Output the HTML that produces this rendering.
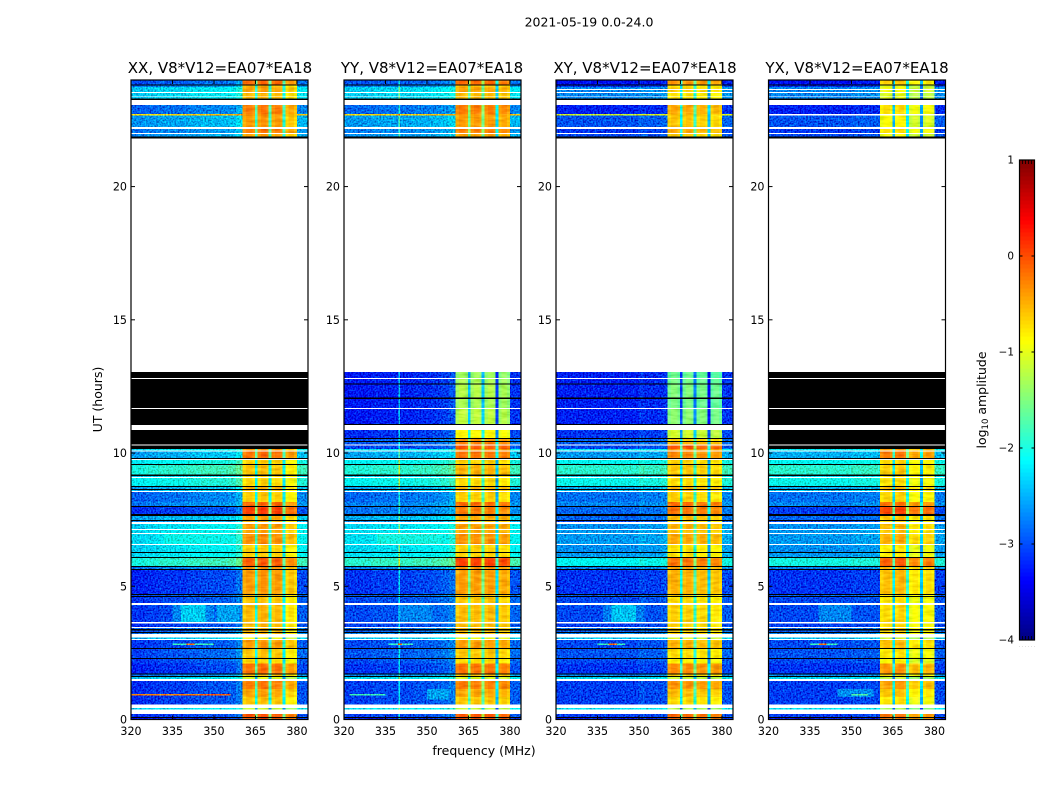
<!DOCTYPE html>
<html lang="en">
<head>
<meta charset="utf-8">
<title>2021-05-19 0.0-24.0</title>
<style>
html,body{margin:0;padding:0;background:#fff;}
svg{display:block;}
text{font-family:"DejaVu Sans","Liberation Sans",sans-serif;fill:#000;}
</style>
</head>
<body>
<svg id="chart" xmlns="http://www.w3.org/2000/svg" width="1050" height="800" viewBox="0 0 1050 800">
  <defs>
    <filter id="speckle" x="0" y="0" width="100%" height="100%" color-interpolation-filters="sRGB">
      <feTurbulence type="fractalNoise" baseFrequency="0.6" numOctaves="1" seed="4" result="n"/>
      <feColorMatrix in="n" type="matrix" values="0 0 0 0 .5 1 0 0 0 0 1 0 0 0 0 0 0 0 0 1" result="g"/>
      <feComposite in="SourceGraphic" in2="g" operator="arithmetic" k1="0" k2="1" k3="1.1" k4="-0.58" result="c"/>
      <feComposite in="c" in2="SourceAlpha" operator="in"/>
    </filter>
    <filter id="speckle-soft" x="0" y="0" width="100%" height="100%" color-interpolation-filters="sRGB">
      <feTurbulence type="fractalNoise" baseFrequency="0.08 0.35" numOctaves="2" seed="9" result="n"/>
      <feColorMatrix in="n" type="matrix" values="1 0 0 0 0 1 0 0 0 0 1 0 0 0 0 0 0 0 0 1" result="g"/>
      <feComposite in="SourceGraphic" in2="g" operator="arithmetic" k1="0" k2="1" k3="0.3" k4="-0.15" result="c"/>
      <feComposite in="c" in2="SourceAlpha" operator="in"/>
    </filter>
  </defs>
  <text x="589" y="26.5" font-size="12.5" text-anchor="middle">2021-05-19 0.0-24.0</text>
  <text x="220" y="73" font-size="15" text-anchor="middle">XX, V8*V12=EA07*EA18</text>
  <text x="432" y="73" font-size="15" text-anchor="middle">YY, V8*V12=EA07*EA18</text>
  <text x="645" y="73" font-size="15" text-anchor="middle">XY, V8*V12=EA07*EA18</text>
  <text x="857" y="73" font-size="15" text-anchor="middle">YX, V8*V12=EA07*EA18</text>
  <text font-size="12.5" text-anchor="middle" transform="translate(102 399.5) rotate(-90)">UT (hours)</text>
  <text x="484" y="755" font-size="12.5" text-anchor="middle">frequency (MHz)</text>
  <text font-size="12.5" text-anchor="middle" transform="translate(986 400) rotate(-90)">log<tspan font-size="8.5" dy="2">10</tspan><tspan dy="-2"> amplitude</tspan></text>
  <g id="panels"></g>
  <g id="colorbar"></g>
</svg>
<script>
// Band values: null = no data (white), K = zero amplitude (black)
const N = null;
const K = -9;

// UT hour at which each band starts (the last band ends at 24)
const bandStart = [
  0,.06,.09,.21,.38,.43,.56,.85,1.15,1.44,
  1.52,1.59,1.63,1.69,1.73,2.1,2.27,2.31,2.65,2.68,
  2.98,3.02,3.08,3.21,3.25,3.28,3.34,3.40,3.43,3.47,
  3.60,3.66,4.30,4.37,4.60,4.63,4.67,4.71,5.61,5.65,
  5.72,5.76,6.06,6.10,6.25,6.29,6.55,6.59,6.96,7.00,
  7.11,7.15,7.34,7.41,7.45,7.49,7.64,7.71,7.97,8.01,
  8.16,8.54,8.57,8.61,8.65,8.72,8.76,9.06,9.10,9.14,
  9.19,9.55,9.59,9.74,9.77,9.81,10.06,10.09,10.15,10.28,
  10.32,10.41,10.45,10.53,10.56,10.86,11.05,11.09,11.65,11.69,12.03,12.08,
  12.57,12.61,12.78,12.81,13.04,21.80,21.88,21.97,22.01,22.16,
  22.23,22.66,22.72,23.06,23.25,23.31,23.36,23.39,23.51,23.55,
  23.62,23.66,23.74,23.79,23.84
];
// log10 amplitude below 360 MHz for each band
const lowLevel = [
  -3.2,K,-3.05,N,-2.25,N,-3.05,-3.05,-3.05,N,
  -2.3,K,-2.7,K,-3.1,-3,K,-2.95,K,-3,
  N,-2.4,N,-2.7,K,-2.9,K,-2.8,N,-3.05,
  N,-3,N,-3,K,-2.9,K,-3.1,K,-2.7,
  K,-1.9,K,-2.2,K,-2.25,N,-2.2,N,-2.2,
  N,-2.25,N,-2.6,K,-2.45,K,-3.05,K,-2.7,
  -2.8,N,-2.4,K,-2.5,K,-2.05,N,-2.3,K,
  -1.9,K,-2.1,N,K,-2.5,N,-2.2,-3,N,
  -2.9,K,-2.9,K,-3.1,N,K,-3.2,N,-3.2,K,-3.2,
  K,-3.2,N,-3.2,N,K,-2.6,N,-2.7,N,
  -2.55,-.7,-2.8,N,K,-2.3,N,-2.3,N,-2.3,
  -2.3,-2.3,-2.7,K,-2.9
];
// log10 amplitude in the 360-380 MHz block for each band
const highLevel = [
  0,K,0,N,-1.1,N,-.55,-.4,-.2,N,
  -1,K,-.5,K,-.15,-.65,K,-.55,K,-.35,
  N,-.9,N,-.5,K,-.5,K,-.5,N,-.5,
  N,-.5,N,-.55,K,-.5,K,-.35,K,-.3,
  K,-.05,K,-.6,K,-.6,N,-.3,N,-.4,
  N,-.35,N,-.5,K,-.4,K,.1,K,-.1,
  -.6,N,-.5,K,-.45,K,-.65,N,-.6,K,
  -.55,K,-.6,N,K,-.15,N,-.3,0,N,
  -.2,K,-.3,K,-.8,N,K,-1.15,N,-1.25,K,-1.2,
  K,-1.25,N,-1.3,N,K,-.4,N,-.2,N,
  -.35,-.3,-.2,N,K,-.5,N,-.5,N,-.4,
  -.4,-.4,-.5,K,-.1
];

// Frequency channel edges (MHz) and each channel's zone
const freqEdges = [320,325,330,335,339.7,340.3,345,350,352,355,358,360.4,361.5,364,364.8,365.8,367,369,369.8,370.8,372,374,374.8,375.8,377,379,380,384];
const channelZone = ['L','L','L','L','L','L','L','L','L','L','L','H','H','H','H','H','H','H','H','H','H','H','H','H','H','H','L'];

// Per-polarisation channel offsets (log10 amplitude)
const xxChannel = [-.1,-.05,0,0,0,.05,.1,.1,.1,.15,.3,-.12,-.02,-.12,-1.5,-.08,.03,-.08,-1.5,-.12,-.02,-.12,-1.6,-.35,-.22,-.35,.1];
const yyChannel = [-.05,-.05,0,0,.8,0,.05,.05,.1,.15,.25,-.12,-.02,-.12,-1.2,-.12,-.02,-.12,-1.2,-.12,-.02,-.12,-1.9,-.2,-.08,-.2,.1];
const xyChannel = [0,0,0,0,0,0,0,.1,.05,.05,.1,-.12,-.02,-.12,-1.6,-.12,-.02,-.12,-1.3,-.17,-.07,-.17,-1.9,-.22,-.12,-.22,.1];
const yxChannel = [0,0,0,0,0,0,0,.05,.05,.05,.05,-.17,-.07,-.17,-1.7,-.12,-.02,-.12,-1.4,-.37,-.27,-.37,-1.9,-.32,-.22,-.32,.05];

// Per-polarisation level shifts: [fromHour, toHour, lowShift, highShift]
const xxShift = [];
const yyShift = [[0,5.7,.05,0],[5.76,6.06,.05,.15],[7.71,7.97,.3,-.3],[9.19,9.55,0,.1]];
const xyShift = [[0,5.7,0,-.1],[5.76,6.06,-.2,-.1],[6.1,7.7,-.4,-.1],[7.71,7.97,.2,-.25],[9.8,10.1,-.1,-.1],[10.3,13.04,0,-.25],[21,24,-.4,-.2]];
const yxShift = [[0,5.7,0,-.12],[5.76,6.06,-.1,.05],[6.1,7.7,-.4,-.1],[21,24,-.4,-.45]];

// UT ranges flagged per polarisation
const xxBlack = [[10.15,13.04]];
const yyBlack = [];
const xyBlack = [];
const yxBlack = [[10.15,13.04]];
const xxWhite = [];
const yyWhite = [];
const xyWhite = [[23.62,23.66]];
const yxWhite = [[23.62,23.66],[22.66,22.72]];

// Localised features: [fromHour, toHour, fromMHz, toMHz, log10 amplitude]
const xxFeatures = [[.90,.96,320,345,-.3],[.90,.96,345,356,-.1],[2.80,2.86,335,350,-1.8],[2.80,2.86,340,343,-.2],[3.66,4.30,335,350,-2.7],[3.66,4.30,338,347,-2.35],[3.66,4.30,351,359,-2.55],[6.59,6.96,332,355,-2.05]];
const yyFeatures = [[.75,1.15,350,358,-2.55],[.90,.96,322,335,-1.8],[2.80,2.86,336,345,-1.8],[2.80,2.86,339.5,341,-.2],[3.66,4.30,340,352,-2.7],[6.59,6.96,332,355,-2]];
const xyFeatures = [[2.80,2.86,335,345,-1.8],[2.80,2.86,339,342,-.2],[3.66,4.30,337,352,-2.75],[3.66,4.30,340,349,-2.4]];
const yxFeatures = [[.85,1.15,345,358,-2.65],[.90,.96,350,356,-1.7],[2.80,2.86,335,345,-1.8],[2.80,2.86,338,341,-.2],[3.66,4.30,338,350,-2.7]];

// Axis ticks
const xTickValues = [320,335,350,365,380];
const xTickLabels = ['320','335','350','365','380'];
const yTickValues = [0,5,10,15,20];
const yTickLabels = ['0','5','10','15','20'];
const cbTickValues = [1,0,-1,-2,-3,-4];
const cbTickLabels = ['1','0','\u22121','\u22122','\u22123','\u22124'];

const panelKeys = ['xx','yy','xy','yx'];
const panelChannels = [xxChannel,yyChannel,xyChannel,yxChannel];
const panelShifts = [xxShift,yyShift,xyShift,yxShift];
const panelBlack = [xxBlack,yyBlack,xyBlack,yxBlack];
const panelWhite = [xxWhite,yyWhite,xyWhite,yxWhite];
const panelFeatures = [xxFeatures,yyFeatures,xyFeatures,yxFeatures];

const SVGNS = 'http://www.w3.org/2000/svg';
const PLOT_TOP = 80, PLOT_BOTTOM = 719.5, PANEL_W = 177;
const panelLeft = [131,344,556,768.5];
function yOf(h){ return PLOT_BOTTOM - (h/24)*(PLOT_BOTTOM-PLOT_TOP); }
function xOf(f,left){ return left + ((f-320)/64)*PANEL_W; }

function jet(v){
  const t = Math.max(0,Math.min(1,(v+4)/5));
  const ch = function(c){ return Math.round(255*Math.max(0,Math.min(1,1.5-Math.abs(4*t-c)))); };
  return 'rgb('+ch(3)+','+ch(2)+','+ch(1)+')';
}
function make(tag,attrs,parent){
  const el = document.createElementNS(SVGNS,tag);
  for(const k in attrs){ el.setAttribute(k,attrs[k]); }
  parent.appendChild(el);
  return el;
}
function inRanges(h,ranges){
  return ranges.some(function(r){ return h>r[0] && h<r[1]; });
}
function shiftAt(h,shifts){
  for(const s of shifts){ if(h>s[0] && h<s[1]) return s; }
  return [0,0,0,0];
}
function bandEnd(i){ return i+1<bandStart.length ? bandStart[i+1] : 24; }

const panelsRoot = document.getElementById('panels');
panelKeys.forEach(function(key,p){
  const left = panelLeft[p];
  const panel = make('g',{},panelsRoot);
  
  
  const lowGroup = make('g',{filter:'url(#speckle)','shape-rendering':'crispEdges'},panel);
  
  
  const highGroup = make('g',{filter:'url(#speckle-soft)','shape-rendering':'crispEdges'},panel);
  
  
  const flagGroup = make('g',{'shape-rendering':'crispEdges'},panel);
  
  

  lowLevel.forEach(function(low,i){
    const from = bandStart[i], to = bandEnd(i), mid = (from+to)/2;
    if(low===N || inRanges(mid,panelWhite[p])) return;
    const y1 = yOf(to), y2 = yOf(from);
    if(low===K || inRanges(mid,panelBlack[p])){
      const blackCell = make('rect',{x:left,y:y1,width:PANEL_W,height:y2-y1,fill:'#000'},flagGroup);
      
      
      return;
    }
    const shift = shiftAt(mid,panelShifts[p]);
    channelZone.forEach(function(zone,j){
      const base = zone==='L' ? low+shift[2] : highLevel[i]+shift[3];
      const value = base + panelChannels[p][j];
      const x1 = xOf(freqEdges[j],left), x2 = xOf(freqEdges[j+1],left);
      const cell = make('rect',{x:x1,y:y1,width:x2-x1,height:y2-y1,fill:jet(value)},zone==='L'?lowGroup:highGroup);
      
      
    });
  });

  panelFeatures[p].forEach(function(f){
    const x1 = xOf(f[2],left), x2 = xOf(f[3],left), y1 = yOf(f[1]), y2 = yOf(f[0]);
    const feature = make('rect',{x:x1,y:y1,width:x2-x1,height:y2-y1,fill:jet(f[4])},lowGroup);
    
    
  });

  const frame = make('rect',{x:left,y:PLOT_TOP,width:PANEL_W,height:PLOT_BOTTOM-PLOT_TOP,fill:'none',stroke:'#000','stroke-width':1.2},panel);
  
  

  xTickValues.forEach(function(v,i){
    const x = xOf(v,left);
    const bottomTick = make('line',{x1:x,x2:x,y1:PLOT_BOTTOM,y2:PLOT_BOTTOM-4,stroke:'#000','stroke-width':1},panel);
    
    
    const topTick = make('line',{x1:x,x2:x,y1:PLOT_TOP,y2:PLOT_TOP+4,stroke:'#000','stroke-width':1},panel);
    
    
    const label = make('text',{x:x,y:735,'font-size':11.1,'text-anchor':'middle'},panel);
    
    
    label.textContent = xTickLabels[i];
  });
  yTickValues.forEach(function(v,i){
    const y = yOf(v);
    const leftTick = make('line',{x1:left,x2:left+4,y1:y,y2:y,stroke:'#000','stroke-width':1},panel);
    
    
    const rightTick = make('line',{x1:left+PANEL_W,x2:left+PANEL_W-4,y1:y,y2:y,stroke:'#000','stroke-width':1},panel);
    
    
    const label = make('text',{x:left-4,y:y+4,'font-size':11.1,'text-anchor':'end'},panel);
    
    
    label.textContent = yTickLabels[i];
  });
});

// Colorbar
const cbRoot = document.getElementById('colorbar');
const CB_L = 1019.5, CB_W = 15, CB_T = 160, CB_B = 640;
function cbY(v){ return CB_B - ((v+4)/5)*(CB_B-CB_T); }
const cbSteps = 120;
for(let s=0;s<cbSteps;s++){
  const v0 = -4 + 5*s/cbSteps, v1 = -4 + 5*(s+1)/cbSteps;
  const step = make('rect',{x:CB_L,y:cbY(v1),width:CB_W,height:cbY(v0)-cbY(v1)+.5,fill:jet((v0+v1)/2),'shape-rendering':'crispEdges'},cbRoot);
  
  
}
const cbFrame = make('rect',{x:CB_L,y:CB_T,width:CB_W,height:CB_B-CB_T,fill:'none',stroke:'#000','stroke-width':1.2},cbRoot);


cbTickValues.forEach(function(v,i){
  const y = cbY(v);
  const tickL = make('line',{x1:CB_L,x2:CB_L+3,y1:y,y2:y,stroke:'#000','stroke-width':1},cbRoot);
  
  
  const tickR = make('line',{x1:CB_L+CB_W,x2:CB_L+CB_W-3,y1:y,y2:y,stroke:'#000','stroke-width':1},cbRoot);
  
  
  const label = make('text',{x:1014,y:y+3.5,'font-size':10.4,'text-anchor':'end'},cbRoot);
  
  
  label.textContent = cbTickLabels[i];
});
[0,.2,.4,.6,.8,1].forEach(function(frac){
  const x = CB_L + frac*CB_W;
  const minorTop = make('line',{x1:x,x2:x,y1:CB_T,y2:CB_T+4,stroke:'#000','stroke-width':.8},cbRoot);
  
  
  const minorBottom = make('line',{x1:x,x2:x,y1:CB_B,y2:CB_B-4,stroke:'#000','stroke-width':.8},cbRoot);
  
  
  const dot = make('text',{x:x,y:647,'font-size':3,'text-anchor':'middle'},cbRoot);
  
  
  dot.textContent = '.';
});
</script>
</body>
</html>
